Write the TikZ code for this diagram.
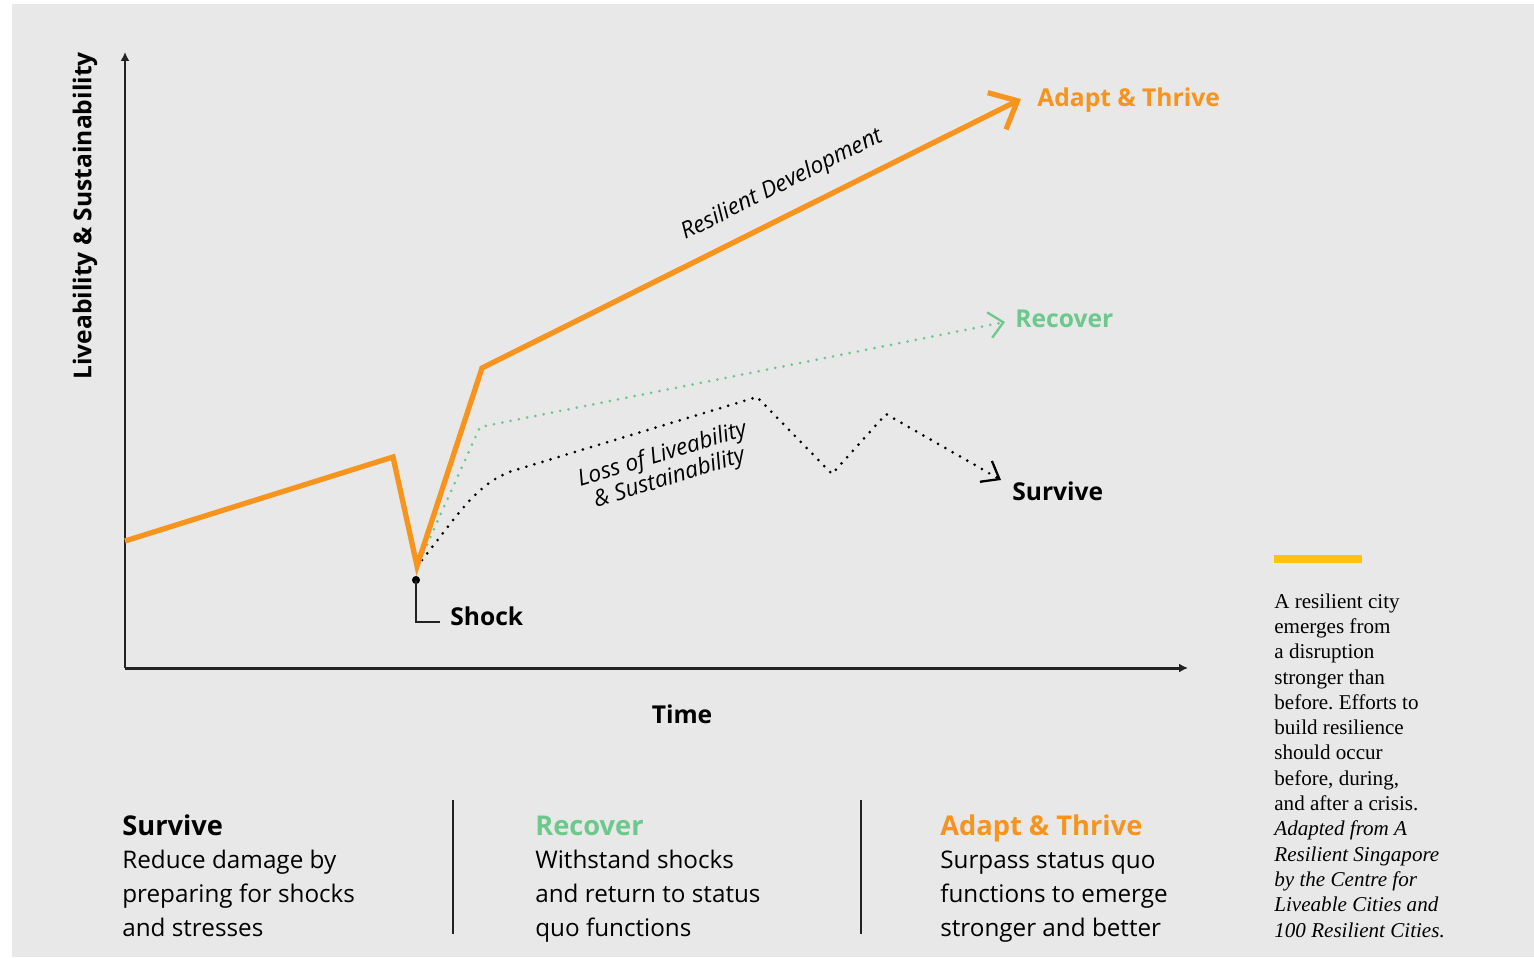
\documentclass[tikz,border=0pt]{standalone}
\usepackage{fontspec}
\setmainfont{Open Sans}
\newfontfamily\notefont{Liberation Serif}
\usetikzlibrary{arrows.meta}
\definecolor{ThriveOrange}{RGB}{247,148,29}
\definecolor{RecoverGreen}{RGB}{108,200,140}
\definecolor{PanelGray}{RGB}{232,232,232}
\definecolor{BarYellow}{RGB}{255,194,14}
\definecolor{AxisGray}{RGB}{34,34,34}
\frenchspacing

\begin{document}
\begin{tikzpicture}[x=0.02cm,y=-0.02cm,
    tag/.style={font=\fontsize{14}{17}\selectfont\bfseries,inner sep=0pt},
    slanted/.style={font=\fontsize{13}{12.5}\selectfont\itshape,inner sep=0pt},
    head/.style={font=\fontsize{15.5}{19}\selectfont\bfseries,inner sep=0pt,anchor=base west},
    body/.style={font=\fontsize{13.8}{19.3}\selectfont,inner sep=0pt,anchor=base west,align=left},
    dots/.style={line width=1.7pt,line cap=round,dash pattern=on 0pt off 4.8pt}]
  \useasboundingbox (0,0) rectangle (1534,957);
  \fill[PanelGray] (12,4) rectangle (1534,957);

  % axes
  \coordinate (O) at (125,668);
  \draw[AxisGray,line width=1.7pt,-{Latex[length=5pt,width=5pt]}] (O) -- (125,52);
  \draw[AxisGray,line width=1.7pt,-{Latex[length=5pt,width=5pt]}] (O) -- (1188,668);
  \node[tag,rotate=90] (ylab) at (85,216) {Liveability \& Sustainability};
  \node[tag] (xlab) at (682,714) {Time};

  % trajectories after the shock
  \coordinate (start) at (125,541);
  \coordinate (peak) at (393,457);
  \coordinate (low) at (417,566);
  \coordinate (knee) at (482,368);
  \draw[RecoverGreen,dots,-{Straight Barb[length=0.28cm,width=0.52cm,line width=1.3pt]}]
    (420,560) -- (480,427) -- (1005,322);
  \draw[black,dots,-{Straight Barb[length=0.31cm,width=0.48cm,line width=1.3pt]}]
    (422,560) .. controls (465,505) and (478,484) .. (512,471) -- (757,397)
    -- (832,474) -- (886,414) -- (1001,480);
  \draw[ThriveOrange,line width=3pt,line join=miter,
    -{Straight Barb[length=0.46cm,width=0.82cm,line width=3pt]}]
    (start) -- (peak) -- (low) -- (knee) -- (1021,99);

  % shock marker
  \coordinate (hit) at (416,580);
  \fill (hit) circle (2.3pt);
  \draw[AxisGray,line width=1.1pt] (hit) -- (416,622) -- (440,622);
  \node[tag,anchor=base west] (shock) at (450,625) {Shock};

  % end labels
  \node[tag,anchor=base west,text=ThriveOrange] (thrive) at (1037,106) {Adapt \& Thrive};
  \node[tag,anchor=base west,text=RecoverGreen] (recover) at (1015,327) {Recover};
  \node[tag,anchor=base west] (survive) at (1012,500) {Survive};
  \node[slanted,rotate=26.6] (resil) at (782,185) {Resilient Development};
  \node[slanted,rotate=17,align=center] (loss) at (666,467) {Loss of Liveability\\\& Sustainability};

  % legend columns (multi-line nodes sit on their last baseline)
  \draw[AxisGray,line width=1.1pt] (453,800) -- (453,934);
  \draw[AxisGray,line width=1.1pt] (861,800) -- (861,934);
  \node[head] (h1) at (122,835) {Survive};
  \node[body] (b1) at (122,936) {Reduce damage by\\preparing for shocks\\and stresses};
  \node[head,text=RecoverGreen] (h2) at (535,835) {Recover};
  \node[body] (b2) at (535,936) {Withstand shocks\\and return to status\\quo functions};
  \node[head,text=ThriveOrange] (h3) at (940,835) {Adapt \& Thrive};
  \node[body] (b3) at (940,936) {Surpass status quo\\functions to emerge\\stronger and better};

  % side note
  \fill[BarYellow] (1274,555) rectangle (1362,563);
  \node[inner sep=0pt,anchor=base west,align=left,
    font=\notefont\fontsize{12}{14.4}\selectfont] (note) at (1274,937)
    {A resilient city\\emerges from\\a disruption\\stronger than\\before. Efforts to\\build resilience\\should occur\\before, during,\\and after a crisis.\\
     \itshape Adapted from A\\\itshape Resilient Singapore\\\itshape by the Centre for\\\itshape Liveable Cities and\\\itshape 100 Resilient Cities.};
\end{tikzpicture}
\end{document}
